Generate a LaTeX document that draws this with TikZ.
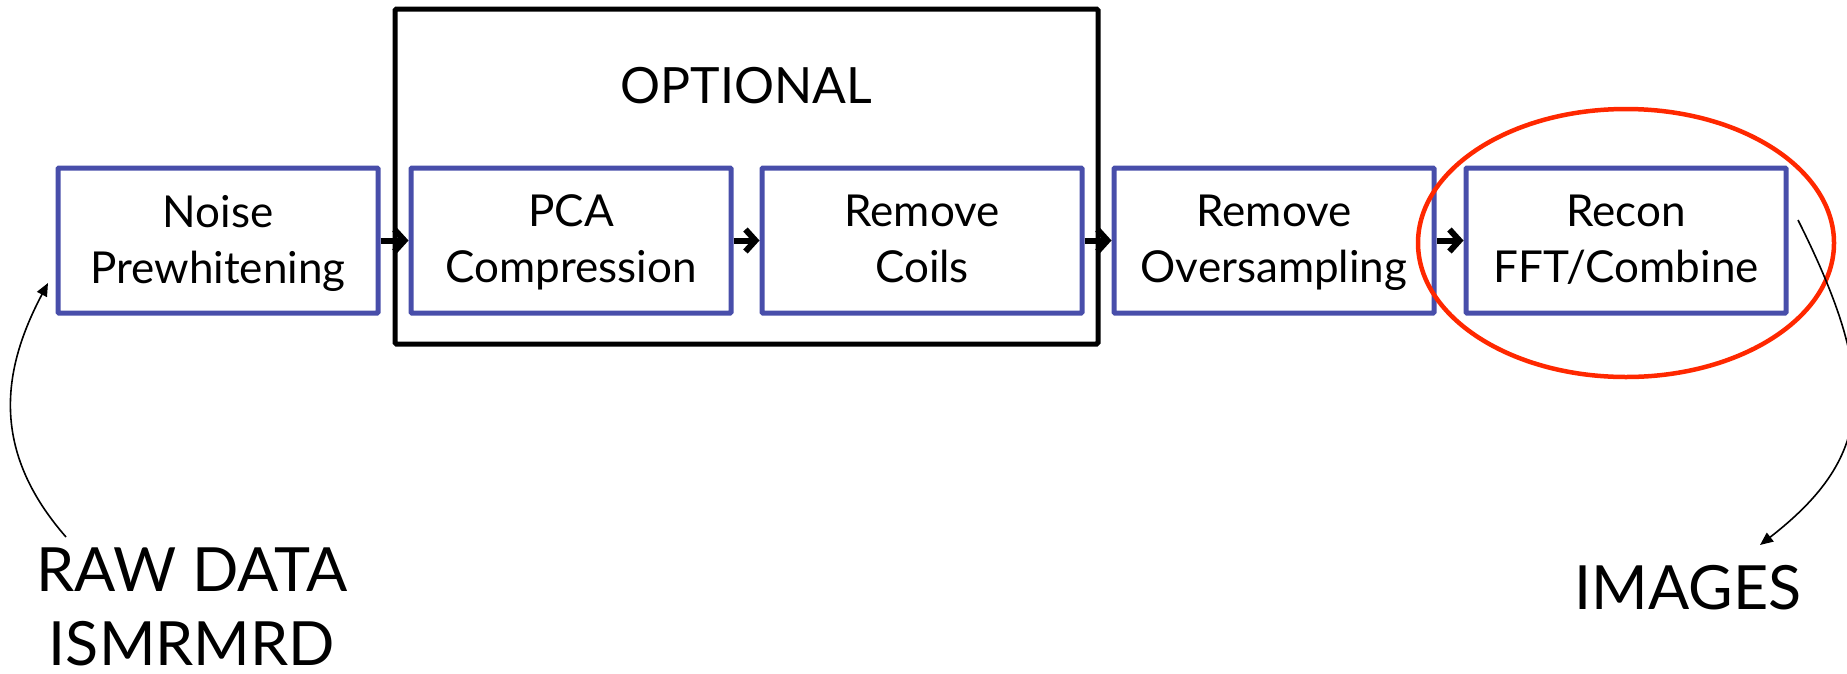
\documentclass[tikz,border=0pt]{standalone}
\usepackage{fontspec}
\setmainfont{Lato}
\usetikzlibrary{arrows.meta,shapes.geometric}
\definecolor{boxblue}{RGB}{72,78,170}
\definecolor{ringred}{RGB}{255,40,0}
\begin{document}
\begin{tikzpicture}[x=1pt,y=-1pt,
  stage/.style={draw=boxblue, line width=5pt, minimum width=320pt, minimum height=145pt,
    inner sep=0pt, align=center, text depth=3pt, font=\fontsize{44}{56}\selectfont, rounded corners=1pt},
  optbox/.style={draw=black, line width=5pt, minimum width=703pt, minimum height=335pt,
    inner sep=0pt, rounded corners=1.5pt},
  ring/.style={ellipse, draw=ringred, line width=4.5pt, minimum width=416pt, minimum height=268pt, inner sep=0pt},
  flow/.style={line width=6pt, -{Straight Barb[length=10pt,width=22pt]}},
  thin/.style={line width=1.6pt, -{Triangle[length=13pt,width=11pt]}},
  biglabel/.style={align=center, inner sep=0pt, font=\fontsize{61}{74}\selectfont},
]
\useasboundingbox (0,0) rectangle (1847,673);
\node[optbox] (optional) at (746.5,176.5) {};
\node[inner sep=0pt, font=\fontsize{50}{60}\selectfont] (optlabel) at (746.5,86) {OPTIONAL};
\node[stage] (noise) at (218,240.5) {Noise\\Prewhitening};
\node[stage] (pca) at (571,240.5) {PCA\\Compression};
\node[stage] (coils) at (922,240.5) {Remove\\Coils};
\node[stage] (overs) at (1274,240.5) {Remove\\Oversampling};
\node[stage] (recon) at (1626,240.5) {Recon\\FFT/Combine};
\node[ring] (highlight) at (1626,243) {};
\draw[flow] (noise.east) -- (pca.west);
\draw[flow] (pca.east) -- (coils.west);
\draw[flow] (coils.east) -- (overs.west);
\draw[flow] (overs.east) -- (recon.west);
\node[biglabel] (raw) at (192,607) {RAW DATA\\ISMRMRD};
\node[biglabel] (images) at (1688,587.5) {IMAGES};
\coordinate (rawstart) at (66,537);
\coordinate (noisein) at (48,283);
\coordinate (reconout) at (1798,220);
\coordinate (imagesin) at (1760,545);
\draw[thin] (rawstart) .. controls (-10,450) and (2,370) .. (noisein);
\draw[thin] (reconout) .. controls (1878,380) and (1876,455) .. (imagesin);
\end{tikzpicture}
\end{document}
